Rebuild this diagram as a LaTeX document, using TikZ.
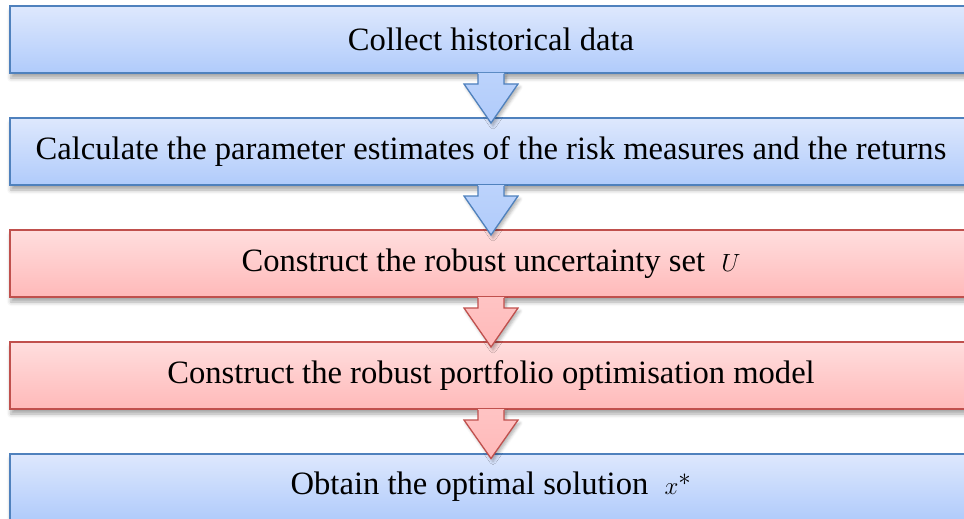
\documentclass[tikz,border=0pt]{standalone}
\usepackage{fontspec}
\setmainfont{Liberation Serif}
\usetikzlibrary{shadows.blur,calc}

\definecolor{blueline}{HTML}{4F81BD}
\definecolor{bluetop}{HTML}{DEE8FD}
\definecolor{bluebot}{HTML}{B0CBFB}
\definecolor{redline}{HTML}{C0504D}
\definecolor{redtop}{HTML}{FFDEDE}
\definecolor{redbot}{HTML}{FFB9B9}

\tikzset{
  stepbox/.style={draw, line width=2pt, minimum width=962pt, minimum height=67pt,
    inner sep=0pt, font=\fontsize{32.6}{38}\selectfont,
    blur shadow={shadow xshift=1pt, shadow yshift=-5pt, shadow blur radius=4pt, shadow opacity=35}},
  bluebox/.style={stepbox, draw=blueline, top color=bluetop, bottom color=bluebot},
  redbox/.style={stepbox, draw=redline, top color=redtop, bottom color=redbot},
  bluearrow/.style={top color=bluebot!85!white, bottom color=bluebot, draw=blueline, line width=1.3pt, line join=miter},
  redarrow/.style={top color=redbot!85!white, bottom color=redbot, draw=redline, line width=1.3pt, line join=miter},
  arrowshadow/.style={blur shadow={shadow xshift=2pt, shadow yshift=-3pt, shadow blur radius=3pt, shadow opacity=30}}
}

% block arrow hanging from the bottom of one box into the gap above the next
\newcommand{\blockarrow}[3]{%
  \path[#1, arrowshadow, draw=none]
    ($(#2.south)+(-13,-1)$) -- ($(#2.south)+(-13,10)$) -- ($(#2.south)+(-27,10)$)
    -- ($(#3.north)+(0,6)$) -- ($(#2.south)+(27,10)$) -- ($(#2.south)+(13,10)$)
    -- ($(#2.south)+(13,-1)$) -- cycle;
  \draw[#1]
    ($(#2.south)+(-13,0)$) -- ($(#2.south)+(-13,10)$) -- ($(#2.south)+(-27,10)$)
    -- ($(#3.north)+(0,6)$) -- ($(#2.south)+(27,10)$) -- ($(#2.south)+(13,10)$)
    -- ($(#2.south)+(13,0)$);
}

\begin{document}
\begin{tikzpicture}[x=1pt, y=-1pt]
  \useasboundingbox (0,0) rectangle (964,519);
  \clip (0,0) rectangle (964,519);

  \node[bluebox] (b1) at (491,39.5)  {Collect historical data};
  \node[bluebox] (b2) at (491,151.5) {Calculate the parameter estimates of the risk measures and the returns};
  \node[redbox]  (b3) at (491,263.5) {Construct the robust uncertainty set~ $U$};
  \node[redbox]  (b4) at (491,375.5) {Construct the robust portfolio optimisation model};
  \node[bluebox] (b5) at (491,487)   {Obtain the optimal solution~ $x^{*}$};

  \blockarrow{bluearrow}{b1}{b2}
  \blockarrow{bluearrow}{b2}{b3}
  \blockarrow{redarrow}{b3}{b4}
  \blockarrow{redarrow}{b4}{b5}
\end{tikzpicture}
\end{document}
